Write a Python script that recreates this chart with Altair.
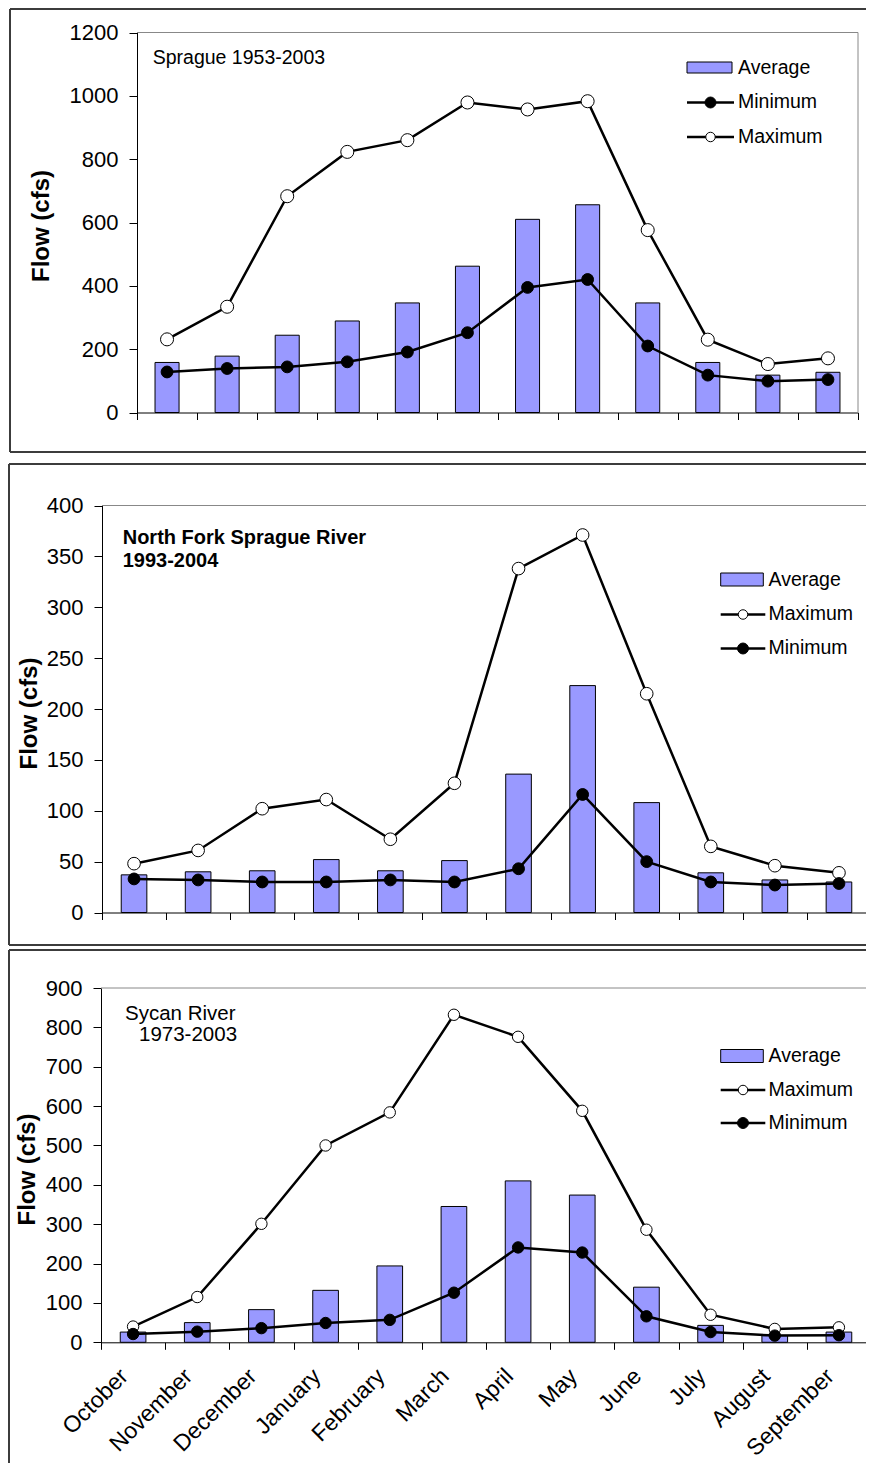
import altair as alt
import pandas as pd

FONT = "Liberation Sans, Arial, Helvetica, sans-serif"

months = ["October", "November", "December", "January", "February", "March",
          "April", "May", "June", "July", "August", "September"]

# Sprague 1953-2003
p1_avg = [158, 178, 244, 289, 346, 462, 610, 656, 346, 158, 118, 127]
p1_min = [128, 139, 144, 160, 191, 252, 395, 420, 210, 118, 99, 104]
p1_max = [231, 334, 683, 823, 860, 979, 957, 983, 576, 230, 153, 171]

# North Fork Sprague River 1993-2004
p2_avg = [37, 40, 41, 52, 41, 51, 136, 223, 108, 39, 32, 30]
p2_max = [48, 61, 102, 111, 72, 127, 338, 371, 215, 65, 46, 39]
p2_min = [33, 32, 30, 30, 32, 30, 43, 116, 50, 30, 27, 28.5]

# Sycan River 1973-2003
p3_avg = [26, 50, 83, 132, 194, 345, 410, 374, 140, 43, 17, 26]
p3_max = [40, 115, 301, 500, 584, 832, 776, 588, 286, 70, 34, 38]
p3_min = [21, 27, 36, 49, 57, 126, 241, 228, 66, 26, 17, 18]

OFF = 8            # page margin: chart coordinates = page coordinates - 8
WTOT, HTOT = 858, 1455
ONE = pd.DataFrame({"k": [0]})
BAR_FILL = "#9999FF"
BOX = "#3c3c3c"
GRAY = "#888888"


def vtext(txt, x, y, size, weight="normal"):
    return alt.Chart(ONE).mark_text(
        text=txt, align="left", baseline="middle", font=FONT, fontSize=size,
        fontWeight=weight, color="black"
    ).encode(x=alt.value(x - OFF), y=alt.value(y - OFF))


def hrule(x1, x2, y, color, width):
    return alt.Chart(ONE).mark_rule(color=color, strokeWidth=width).encode(
        x=alt.value(x1 - OFF), x2=alt.value(x2 - OFF), y=alt.value(y - OFF))


def vrule(x, y1, y2, color, width):
    return alt.Chart(ONE).mark_rule(color=color, strokeWidth=width).encode(
        x=alt.value(x - OFF), y=alt.value(y1 - OFF), y2=alt.value(y2 - OFF))


def vrect(x1, x2, y1, y2):
    return alt.Chart(ONE).mark_rect(fill=BAR_FILL, stroke="black", strokeWidth=1).encode(
        x=alt.value(x1 - OFF), x2=alt.value(x2 - OFF),
        y=alt.value(y1 - OFF), y2=alt.value(y2 - OFF))


def vpoint(x, y, fill, size):
    return alt.Chart(ONE).mark_point(
        shape="circle", filled=True, fill=fill, stroke="black", strokeWidth=1,
        size=size, opacity=1
    ).encode(x=alt.value(x - OFF), y=alt.value(y - OFF))


def panel(avg, mx, mn, geom, ymax, ystep, box, notes, leg, legend_order,
          title_xy, show_labels, msize):
    x0, x1, yt, yb = geom
    df = pd.DataFrame({"month": months, "Average": avg, "Maximum": mx, "Minimum": mn})
    common_x = dict(title=None, orient="bottom", offset=(yb - OFF) - HTOT,
                    domainColor="black", domainWidth=1, tickColor="black",
                    tickSize=7, tickBand="extent")
    if show_labels:
        xaxis = alt.Axis(labelAngle=315, labelAlign="right", labelBaseline="middle",
                         labelFont=FONT, labelFontSize=23, labelColor="black",
                         labelPadding=23, labelOffset=-9, labelOverlap=False,
                         **common_x)
    else:
        xaxis = alt.Axis(labels=False, **common_x)
    xscale = alt.Scale(domain=months, range=[x0 - OFF, x1 - OFF],
                       paddingInner=0, paddingOuter=0)
    yscale = alt.Scale(domain=[0, ymax], range=[yb - OFF, yt - OFF], nice=False, zero=True)
    yaxis = alt.Axis(values=list(range(0, ymax + 1, ystep)), format="d",
                     title="Flow (cfs)", orient="left", offset=-(x0 - OFF),
                     grid=False, domainColor="black", domainWidth=1,
                     tickColor="black", tickSize=8, labelFont=FONT,
                     labelFontSize=22, labelColor="black", labelPadding=11,
                     titleFont=FONT, titleFontSize=24, titleFontWeight="bold",
                     titleColor="black", titleAngle=270, titleAlign="center",
                     titleBaseline="middle", titleX=title_xy[0] - x0,
                     titleY=title_xy[1] - OFF)
    xenc = alt.X("month:N", sort=months, scale=xscale, axis=xaxis)
    base = alt.Chart(df)
    layers = []
    # panel frame
    bl, bt, bb, br = box
    layers.append(hrule(bl, br, bt, BOX, 2))
    layers.append(vrule(bl, bt, bb if bb is not None else HTOT + OFF, BOX, 2))
    if bb is not None:
        layers.append(hrule(bl, br, bb, BOX, 2))
    # plot-area border (top and right, gray)
    layers.append(hrule(x0, x1, yt, GRAY, 1))
    layers.append(vrule(x1, yt, yb, GRAY, 1))
    bars = base.mark_bar(width=alt.RelativeBandSize(0.4), fill=BAR_FILL,
                         stroke="black", strokeWidth=1).encode(
        x=xenc, y=alt.Y("Average:Q", scale=yscale, axis=yaxis))
    layers.append(bars)
    for field, fill, size in [("Maximum", "white", msize[0]), ("Minimum", "black", msize[1])]:
        line = base.mark_line(color="black", strokeWidth=2.5).encode(
            x=xenc, y=alt.Y(f"{field}:Q", scale=yscale, axis=yaxis))
        pts = base.mark_point(shape="circle", filled=True, fill=fill, stroke="black",
                              strokeWidth=1, size=size, opacity=1).encode(
            x=xenc, y=alt.Y(f"{field}:Q", scale=yscale, axis=yaxis))
        layers += [line, pts]
    # notes
    for txt, x, y, size, weight in notes:
        layers.append(vtext(txt, x, y, size, weight))
    # legend
    sx1, sx2, lx, ys, sh = leg
    for name, yy in zip(legend_order, ys):
        if name == "Average":
            layers.append(vrect(sx1, sx2, yy - sh / 2, yy + sh / 2))
        else:
            layers.append(hrule(sx1, sx2 + 2, yy + 0.5, "black", 2.5))
            if name == "Minimum":
                layers.append(vpoint((sx1 + sx2) / 2 + 1, yy + 0.5, "black", 120))
            else:
                layers.append(vpoint((sx1 + sx2) / 2 + 1, yy + 0.5, "white", 90))
        layers.append(vtext(name, lx, yy, 19.5))
    return alt.layer(*layers)


p1 = panel(p1_avg, p1_max, p1_min, geom=(137, 858, 32.5, 412.5), ymax=1200, ystep=200,
           box=(10, 9, 452, 874),
           notes=[("Sprague 1953-2003", 152.7, 58, 19.5, "normal")],
           leg=(687, 732, 738, [67.5, 102, 136.5], 11),
           legend_order=["Average", "Minimum", "Maximum"],
           title_xy=(41, 225.5), show_labels=False, msize=(170, 140))

p2 = panel(p2_avg, p2_max, p2_min, geom=(102, 871, 505.5, 912.5), ymax=400, ystep=50,
           box=(9, 464, 945, 874),
           notes=[("North Fork Sprague River", 122.7, 537.5, 20, "bold"),
                  ("1993-2004", 122.7, 561, 20, "bold")],
           leg=(720.7, 763.3, 768.5, [579.5, 614, 648], 13),
           legend_order=["Average", "Maximum", "Minimum"],
           title_xy=(29.5, 713), show_labels=False, msize=(160, 140))

p3 = panel(p3_avg, p3_max, p3_min, geom=(101, 871, 988, 1342.3), ymax=900, ystep=100,
           box=(9, 950, None, 874),
           notes=[("Sycan River", 125, 1013.5, 20.5, "normal"),
                  ("1973-2003", 139, 1035, 20.5, "normal")],
           leg=(720.7, 763.3, 768.5, [1056, 1089.5, 1122.5], 13),
           legend_order=["Average", "Maximum", "Minimum"],
           title_xy=(27, 1169), show_labels=True, msize=(130, 130))

chart = alt.layer(p1, p2, p3).resolve_scale(
    x="independent", y="independent"
).resolve_axis(
    x="independent", y="independent"
).properties(
    width=WTOT, height=HTOT, padding=0, background="white",
    autosize=alt.AutoSizeParams(type="none")
).configure_view(stroke=None)

chart.save("out.html", embed_options={"renderer": "svg", "actions": False})
